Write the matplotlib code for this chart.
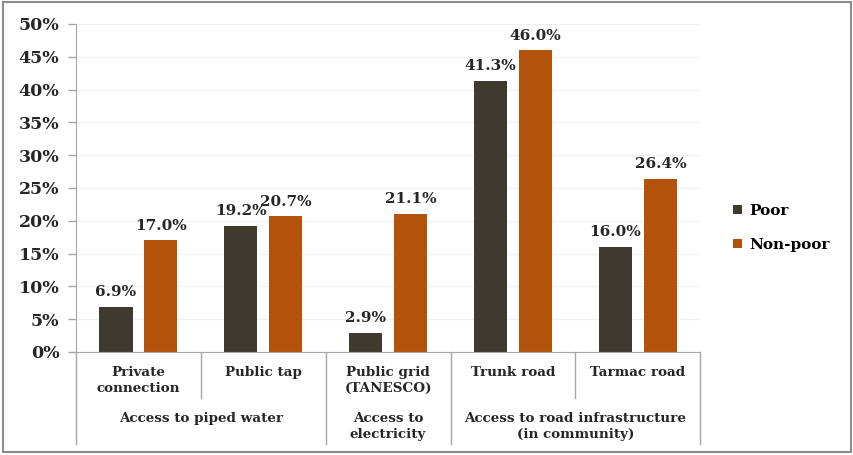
import numpy as np
import matplotlib.pyplot as plt
from matplotlib.patches import Rectangle
from matplotlib.ticker import FuncFormatter

# Data
categories = ["Private\nconnection", "Public tap", "Public grid\n(TANESCO)", "Trunk road", "Tarmac road"]
groups = ["Access to piped water", "Access to\nelectricity", "Access to road infrastructure\n(in community)"]
group_spans = [(0, 1), (2, 2), (3, 4)]
poor = [6.9, 19.2, 2.9, 41.3, 16.0]
non_poor = [17.0, 20.7, 21.1, 46.0, 26.4]

c_poor = "#3f3a2f"
c_non = "#b3530b"
axis_gray = "#a6a6a6"
txt = "#262626"

plt.rcParams["font.family"] = ["DejaVu Serif"]
plt.rcParams["font.weight"] = "bold"

fig = plt.figure(figsize=(8.54, 4.55), dpi=100)
ax = fig.add_axes([0.089, 0.2264, 0.731, 0.7209])

x = np.arange(len(categories))
w = 0.265
off = 0.18
b1 = ax.bar(x - off, poor, w, color=c_poor, label="Poor")
b2 = ax.bar(x + off, non_poor, w, color=c_non, label="Non-poor")

# Value labels
for bars, vals in [(b1, poor), (b2, non_poor)]:
    for b, v in zip(bars, vals):
        ax.annotate(f"{v:.1f}%", (b.get_x() + b.get_width() / 2, v),
                    xytext=(0, 5.5), textcoords="offset points",
                    ha="center", va="bottom", fontsize=11, fontweight="bold",
                    color=txt)

ax.set_xlim(-0.5, len(categories) - 0.5)
ax.set_ylim(0, 50)
ax.set_yticks(np.arange(0, 51, 5))
ax.yaxis.set_major_formatter(FuncFormatter(lambda v, p: f"{v:.0f}%"))
ax.tick_params(axis="y", length=6, width=1, color=axis_gray, labelsize=12.5, pad=6, labelcolor=txt)
ax.set_xticks([])
ax.grid(axis="y", color="#f0f0f0", linewidth=1)
ax.set_axisbelow(True)
for s in ["top", "right"]:
    ax.spines[s].set_visible(False)
ax.spines["left"].set_color(axis_gray)
ax.spines["bottom"].set_color(axis_gray)

# Multi-level category axis
tr = ax.get_xaxis_transform()
short_sep = [0.5, 3.5]
long_sep = [-0.5, 1.5, 2.5, 4.5]
for s in short_sep:
    ax.plot([s, s], [0, -0.14], transform=tr, color=axis_gray, lw=1, clip_on=False)
for s in long_sep:
    ax.plot([s, s], [0, -0.28], transform=tr, color=axis_gray, lw=1, clip_on=False)

for i, c in enumerate(categories):
    ax.text(i, -0.042, c, transform=tr, ha="center", va="top", fontsize=9.7,
            fontweight="bold", color=txt, linespacing=1.3)
for g, (a, b) in zip(groups, group_spans):
    ax.text((a + b) / 2, -0.182, g, transform=tr, ha="center", va="top", fontsize=9.7,
            fontweight="bold", color=txt, linespacing=1.3)

# Legend
fig.legend(handles=[b1, b2], labels=["Poor", "Non-poor"], loc="center left",
           bbox_to_anchor=(0.842, 0.499), frameon=False, fontsize=11,
           handlelength=0.6, handleheight=0.6, handletextpad=0.5, labelspacing=1.3)

# Outer border
fig.patches.append(Rectangle((0.003, 0.006), 0.993, 0.99, transform=fig.transFigure,
                             fill=False, edgecolor="#8c8c8c", linewidth=1.5))

plt.savefig("out.png", dpi=100)
